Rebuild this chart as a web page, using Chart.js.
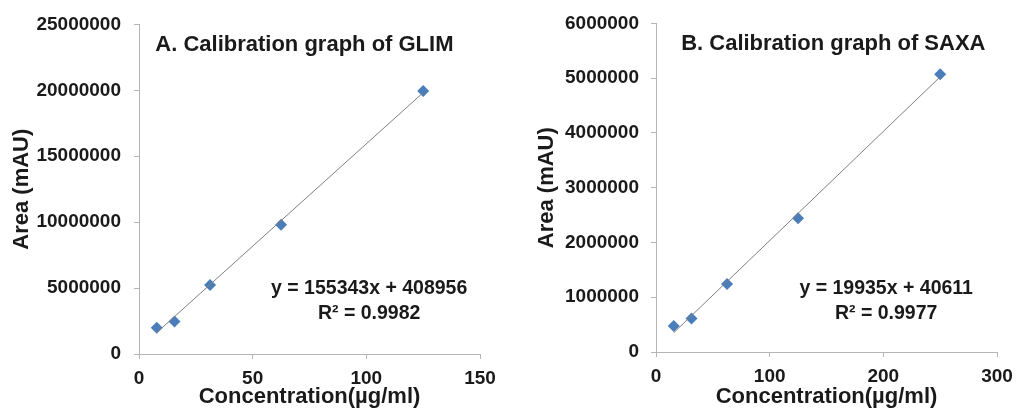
<!DOCTYPE html>
<html>
<head>
<meta charset="utf-8">
<script src="https://cdn.jsdelivr.net/npm/chart.js"></script>
<style>
  body { margin: 0; background: #fff; }
  .box { position: absolute; top: 0; height: 408px; }
  #boxA { left: 0; width: 500px; }
  #boxB { left: 500px; width: 516px; }
</style>
</head>
<body>
<div class="box" id="boxA"><canvas id="chartA" width="500" height="408"></canvas></div>
<div class="box" id="boxB"><canvas id="chartB" width="516" height="408"></canvas></div>
<script>
// GLIM calibration
const glimConc = [7.8125, 15.625, 31.25, 62.5, 125];
const glimArea = [2000000, 2460000, 5240000, 9800000, 19940000];
const glimFit = [155343, 408956];
const glimXTicks = [0, 50, 100, 150];
const glimYTicks = [0, 5000000, 10000000, 15000000, 20000000, 25000000];

// SAXA calibration
const saxaConc = [15.625, 31.25, 62.5, 125, 250];
const saxaArea = [477000, 610000, 1240000, 2440000, 5070000];
const saxaFit = [19935, 40611];
const saxaXTicks = [0, 100, 200, 300];
const saxaYTicks = [0, 1000000, 2000000, 3000000, 4000000, 5000000, 6000000];

const FONT = "'Liberation Sans', Arial, sans-serif";
const axisColor = '#b5b5b5';
const textColor = '#1a1a1a';

Chart.defaults.font.family = FONT;
Chart.defaults.color = textColor;

// title + equation drawn inside the plot area
const labelsPlugin = {
  id: 'calLabels',
  afterDraw(chart, args, opts) {
    const { ctx, chartArea: a } = chart;
    ctx.save();
    ctx.fillStyle = textColor;
    ctx.textAlign = 'center';
    ctx.textBaseline = 'middle';
    ctx.font = 'bold 22px ' + FONT;
    ctx.fillText(opts.title, a.left + a.width * opts.titleX, a.top + 21);
    ctx.font = 'bold 19.5px ' + FONT;
    const ex = a.left + a.width * 0.675;
    ctx.fillText(opts.eq, ex, a.bottom - opts.eqY);
    ctx.fillText(opts.r2, ex, a.bottom - opts.eqY + 25);
    ctx.restore();
  }
};

function makeChart(id, conc, area, fit, xTicks, yTicks, o) {
  const x0 = conc[0], x1 = conc[conc.length - 1];
  return new Chart(document.getElementById(id), {
    type: 'scatter',
    data: {
      datasets: [
        {
          type: 'line',
          data: [{ x: x0, y: fit[0] * x0 + fit[1] }, { x: x1, y: fit[0] * x1 + fit[1] }],
          borderColor: '#7f7f7f',
          borderWidth: 1,
          pointRadius: 0,
          fill: false
        },
        {
          data: conc.map((c, i) => ({ x: c, y: area[i] })),
          pointStyle: 'rectRot',
          pointRadius: 6,
          backgroundColor: '#4a7ebb',
          borderColor: '#4a7ebb',
          borderWidth: 0
        }
      ]
    },
    options: {
      responsive: false,
      animation: false,
      layout: { padding: { top: o.top, right: o.right, bottom: 0, left: 0 } },
      plugins: {
        legend: { display: false },
        tooltip: { enabled: false },
        calLabels: { title: o.title, titleX: o.titleX, eq: o.eq, r2: o.r2, eqY: o.eqY }
      },
      scales: {
        x: {
          type: 'linear',
          min: xTicks[0],
          max: xTicks[xTicks.length - 1],
          afterBuildTicks: s => { s.ticks = xTicks.map(v => ({ value: v })); },
          afterFit: s => { s.height = o.xh; s.paddingLeft = 0; s.paddingRight = 0; },
          grid: { drawOnChartArea: false, tickLength: 5, color: axisColor },
          border: { color: axisColor },
          ticks: { font: { size: 19, weight: 'bold' }, padding: 8, color: textColor },
          title: {
            display: true,
            text: 'Concentration(µg/ml)',
            font: { size: 22, weight: 'bold', lineHeight: 1 },
            padding: { top: 0, bottom: 0 },
            color: textColor
          }
        },
        y: {
          type: 'linear',
          min: yTicks[0],
          max: yTicks[yTicks.length - 1],
          afterBuildTicks: s => { s.ticks = yTicks.map(v => ({ value: v })); },
          afterFit: s => { s.width = o.yw; },
          grid: { drawOnChartArea: false, tickLength: 5, color: axisColor },
          border: { color: axisColor },
          ticks: {
            font: { size: 19, weight: 'bold' },
            padding: o.ypad,
            color: textColor,
            callback: v => String(v)
          },
          title: {
            display: true,
            text: 'Area (mAU)',
            font: { size: 22, weight: 'bold', lineHeight: 1 },
            padding: { top: o.ytp, bottom: 0 },
            color: textColor
          }
        }
      }
    },
    plugins: [labelsPlugin]
  });
}

makeChart('chartA', glimConc, glimArea, glimFit, glimXTicks, glimYTicks, {
  title: 'A. Calibration graph of GLIM', titleX: 0.485,
  eq: 'y = 155343x + 408956', r2: 'R² = 0.9982', eqY: 65,
  top: 19, right: 20, yw: 139, xh: 54, ypad: 13, ytp: 11
});

makeChart('chartB', saxaConc, saxaArea, saxaFit, saxaXTicks, saxaYTicks, {
  title: 'B. Calibration graph of SAXA', titleX: 0.52,
  eq: 'y = 19935x + 40611', r2: 'R² = 0.9977', eqY: 63,
  top: 21, right: 19, yw: 156, xh: 56, ypad: 12, ytp: 36
});
</script>
</body>
</html>
